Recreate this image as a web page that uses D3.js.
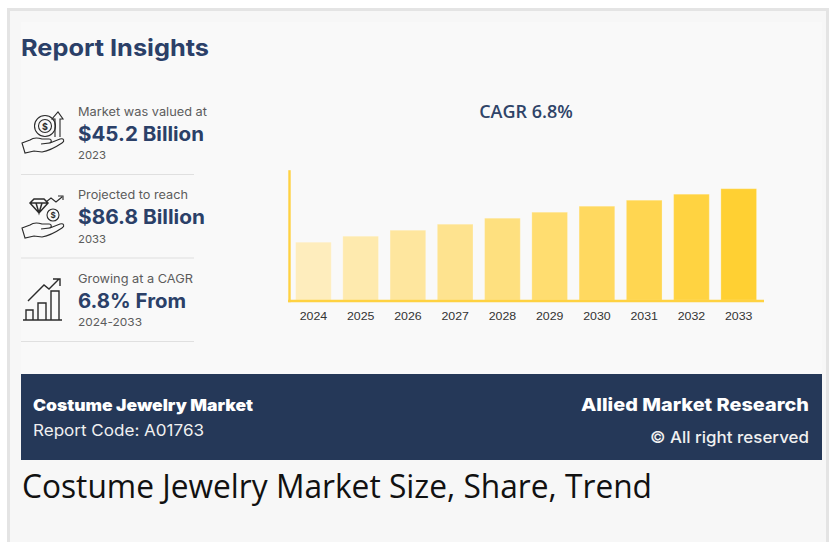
<!DOCTYPE html>
<html>
<head>
<meta charset="utf-8">
<script src="https://cdn.jsdelivr.net/npm/d3@7"></script>
<style>
  html, body { margin: 0; padding: 0; background: #fff; }
  svg { display: block; }
  text { font-family: Inter, "Noto Sans", sans-serif; }
</style>
</head>
<body>
<svg class="report" width="836" height="542"></svg>
<script>
const years = ["2024", "2025", "2026", "2027", "2028", "2029", "2030", "2031", "2032", "2033"];
// no value axis in the picture, so these are relative bar heights
const barValues = [58, 64, 70, 76, 82, 88, 94, 100, 106, 111.5];

const insightLabels = ["Market was valued at", "Projected to reach", "Growing at a CAGR"];
const insightValues = ["$45.2 Billion", "$86.8 Billion", "6.8% From"];
const insightYears = ["2023", "2033", "2024-2033"];

const navy = "#253858";
const svg = d3.select("svg.report");

// Poppins is not installed, so stretch the text to the width it has in the picture
const fit = (sel, w) => sel.attr("textLength", w).attr("lengthAdjust", "spacingAndGlyphs");
const labelWidths = [129, 110, 115];
const valueWidths = [126, 127, 108];
const yearWidths = [28, 28, 64];

// page frame
svg.append("rect").attr("width", 836).attr("height", 542).attr("fill", "#ffffff");
svg.append("rect").attr("x", 7).attr("y", 8).attr("width", 822).attr("height", 540).attr("fill", "#e4e4e4");
svg.append("rect").attr("x", 10).attr("y", 11).attr("width", 816).attr("height", 540).attr("fill", "#f7f7f7");
svg.append("rect").attr("x", 21).attr("y", 22).attr("width", 801).attr("height", 352).attr("fill", "#f9f9f9");

svg.append("text").attr("x", 21).attr("y", 56)
  .attr("font-size", 23.5).attr("font-weight", 700).attr("fill", "#2b4068")
  .text("Report Insights")
  .call(fit, 188);

// left hand insights
const rows = svg.selectAll("g.insight")
  .data(insightLabels)
  .enter()
  .append("g")
  .attr("class", "insight")
  .attr("transform", (d, i) => "translate(0," + (i === 0 ? 0 : i === 1 ? 83 : 167) + ")");

rows.append("text").attr("x", 78).attr("y", 116)
  .attr("font-size", 11.5).attr("fill", "#5c5c5c")
  .text(d => d)
  .each(function (d, i) { d3.select(this).call(fit, labelWidths[i]); });
rows.append("text").attr("x", 78).attr("y", 141)
  .attr("font-size", 20).attr("font-weight", 700).attr("fill", "#2b4068")
  .text((d, i) => insightValues[i])
  .each(function (d, i) { d3.select(this).call(fit, valueWidths[i]); });
rows.append("text").attr("x", 78).attr("y", (d, i) => (i === 1 ? 160 : 159))
  .attr("font-size", 11).attr("fill", "#5c5c5c")
  .text((d, i) => insightYears[i])
  .each(function (d, i) { d3.select(this).call(fit, yearWidths[i]); });
rows.append("line")
  .attr("x1", 21).attr("x2", 194).attr("y1", (d, i) => (i === 1 ? 175 : 174.5)).attr("y2", (d, i) => (i === 1 ? 175 : 174.5))
  .attr("stroke", "#e0e0e0").attr("stroke-width", 1.2);

// icons
const iconStroke = "#2b2b2b";
const icons = svg.append("g").attr("fill", "none").attr("stroke", iconStroke).attr("stroke-width", 1.1);

const handPath = "M0,0 L8,-3 C12,-6 17,-5 20,-4 L27,-4 C30,-4 30,0 27,0 L19,1 L28,0 L38,-4 C42,-5 43,-2 40,0 C34,4 26,8 20,9 L12,8 L3,10 Z";
icons.append("path").attr("d", handPath).attr("transform", "translate(22,143)");
icons.append("circle").attr("cx", 45).attr("cy", 126).attr("r", 10.5);
icons.append("circle").attr("cx", 45).attr("cy", 126).attr("r", 6.5);
icons.append("path").attr("d", "M55,137 V119 H52 L58,112 L63,119 H60 V137");
icons.append("text").attr("x", 45).attr("y", 129.5).attr("text-anchor", "middle")
  .attr("font-size", 9).attr("font-weight", 700).attr("fill", iconStroke).attr("stroke", "none").text("$");

icons.append("path").attr("d", handPath).attr("transform", "translate(22,228)");
icons.append("path").attr("stroke-width", 1.5).attr("d", "M30,203 L34,199 H44 L48,203 L39,213 Z M30,203 H48 M36,203 L39,213 L42,203");
icons.append("circle").attr("cx", 53).attr("cy", 215).attr("r", 6);
icons.append("text").attr("x", 53).attr("y", 218).attr("text-anchor", "middle")
  .attr("font-size", 8).attr("font-weight", 700).attr("fill", iconStroke).attr("stroke", "none").text("$");
icons.append("path").attr("d", "M46,202 L51,198 L56,202 L62,197 M58,196 H63 V200");

icons.append("path").attr("stroke-width", 1.4).attr("d", "M23,320 H62 M26,320 V310 H33 V320 M38,320 V303 H46 V320 M51,320 V291 H59 V320");
icons.append("path").attr("stroke-width", 1.4).attr("d", "M28,301 L44,285 L49,289 L59,279 M53,279 H60 V286");

// bar chart
const x = d3.scaleBand().domain(years).range([289.4, 762.7]).paddingInner(0.245).paddingOuter(0.13);
const y = d3.scaleLinear().domain([0, 130]).range([300.2, 170.2]);
const barColor = d3.scaleLinear().domain([58, 111.5]).range(["#feedbd", "#ffd033"]);
const axisColor = "#ffd242";

svg.append("text").attr("x", 526).attr("y", 118).attr("text-anchor", "middle")
  .attr("font-size", 18).attr("font-weight", 600)
  .attr("fill", "#2f4468").style("font-family", "'Open Sans'")
  .text("CAGR 6.8%");

svg.selectAll("rect.bar")
  .data(barValues)
  .enter()
  .append("rect")
  .attr("class", "bar")
  .attr("x", (d, i) => x(years[i]))
  .attr("y", d => y(d))
  .attr("width", x.bandwidth())
  .attr("height", d => y(0) - y(d))
  .attr("fill", d => barColor(d))
  .attr("stroke", "#fff")
  .attr("stroke-opacity", 0.25);

const xAxis = svg.append("g")
  .attr("transform", "translate(0," + y(0) + ")")
  .call(d3.axisBottom(x).tickSize(0).tickPadding(12));
xAxis.select(".domain").remove();
xAxis.selectAll("text")
  .style("font-family", "'Liberation Sans'")
  .attr("font-size", 11.5)
  .attr("fill", "#333")
  .call(fit, 27.5);

svg.append("line").attr("x1", 288).attr("x2", 764).attr("y1", y(0) + 0.8).attr("y2", y(0) + 0.8)
  .attr("stroke", axisColor).attr("stroke-width", 2.4);
svg.append("line").attr("x1", 289.5).attr("x2", 289.5).attr("y1", y(130)).attr("y2", y(0) + 2)
  .attr("stroke", axisColor).attr("stroke-width", 2.4);

// footer band
svg.append("rect").attr("x", 21).attr("y", 374).attr("width", 801).attr("height", 86).attr("fill", navy);
svg.append("text").attr("x", 33).attr("y", 411)
  .attr("font-size", 16).attr("font-weight", 900).attr("fill", "#fff")
  .text("Costume Jewelry Market")
  .call(fit, 220);
svg.append("text").attr("x", 33).attr("y", 436)
  .attr("font-size", 16).attr("fill", "#f0f0f0")
  .text("Report Code: A01763")
  .call(fit, 171);
svg.append("text").attr("x", 581).attr("y", 411)
  .attr("font-size", 18).attr("font-weight", 800).attr("fill", "#fff")
  .text("Allied Market Research")
  .call(fit, 228);
svg.append("text").attr("x", 650).attr("y", 443)
  .attr("font-size", 16.5).attr("font-weight", 500).attr("fill", "#f0f0f0")
  .text("© All right reserved")
  .call(fit, 159);

svg.append("text").attr("x", 22).attr("y", 498)
  .style("font-family", "'Open Sans'")
  .attr("font-size", 32).attr("fill", "#111")
  .text("Costume Jewelry Market Size, Share, Trend")
  .call(fit, 630);
</script>
</body>
</html>
